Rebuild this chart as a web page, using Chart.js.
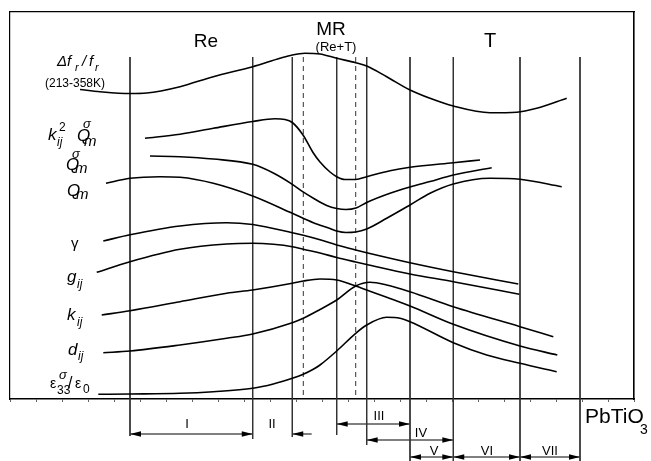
<!DOCTYPE html>
<html><head><meta charset="utf-8">
<script src="https://cdn.jsdelivr.net/npm/chart.js@4/dist/chart.umd.min.js"></script>
<style>html,body{margin:0;padding:0;background:#fff;overflow:hidden}</style>
</head><body>
<canvas id="c" width="651" height="461"></canvas>
<script>
const xTicks = Array.from({length: 25}, (_, i) => +(i * 2.6).toFixed(1));
const deltaF = [[7.0,30.95],[9.0,30.73],[12.0,30.55],[13.67,30.6],[17.0,31.23],[20.33,32.23],[24.27,33.23],[27.0,34.07],[28.23,34.4],[29.5,34.57],[31.0,34.5],[32.67,34.07],[34.57,33.63],[35.67,33.3],[37.67,32.23],[40.0,30.9],[42.0,30.07],[44.33,29.3],[48.0,28.63],[50.67,28.68],[52.67,29.07],[55.67,30.07]];
const k2Qm = [[13.5,26.07],[17.0,26.47],[20.33,27.07],[24.27,27.75],[26.5,28.02],[27.5,27.95],[28.23,27.65],[29.3,26.4],[30.3,24.65],[31.0,23.7],[32.0,22.7],[32.67,22.23],[33.5,21.95],[34.57,21.95],[35.67,22.23],[38.0,22.83],[40.0,23.17],[44.33,23.63],[47.0,23.9]];
const qmSigma = [[14.0,24.3],[17.0,24.23],[20.33,24.0],[24.27,23.47],[26.33,22.6],[28.23,21.47],[29.27,20.73],[30.3,20.1],[31.67,19.35],[32.67,19.05],[33.6,18.95],[34.6,19.1],[35.67,19.65],[38.0,20.57],[40.0,21.2],[42.0,21.75],[44.33,22.4],[48.17,23.13]];
const qm = [[9.6,21.57],[12.0,22.07],[15.0,22.23],[17.0,22.17],[20.33,21.57],[24.27,20.3],[28.23,18.57],[30.33,17.63],[32.0,17.05],[32.67,16.8],[33.6,16.65],[34.57,16.7],[35.67,17.0],[37.67,18.07],[40.0,19.4],[42.0,20.57],[44.33,21.5],[48.0,22.07],[51.0,21.97],[55.17,21.23]];
const gamma = [[9.33,15.8],[12.0,16.42],[17.0,17.3],[21.67,17.63],[24.27,17.45],[28.23,16.63],[29.33,16.37],[31.0,15.92],[32.67,15.4],[34.57,14.9],[35.67,14.63],[40.0,13.63],[44.33,12.73],[50.83,11.5]];
const gij = [[8.67,12.67],[12.0,13.73],[17.0,14.97],[21.67,15.5],[24.27,15.57],[26.33,15.47],[28.23,15.23],[29.33,14.97],[31.0,14.6],[32.67,14.15],[34.57,13.7],[35.67,13.45],[40.0,12.5],[44.33,11.73],[50.93,10.47]];
const kij = [[9.17,8.4],[12.0,8.83],[17.0,9.73],[21.67,10.57],[24.27,10.9],[28.23,11.57],[29.33,11.8],[31.0,12.0],[32.67,11.9],[34.57,11.3],[35.67,10.9],[37.67,10.17],[40.0,9.3],[44.33,7.47],[51.0,5.3],[54.73,4.4]];
const dij = [[9.33,4.63],[12.0,4.8],[17.0,5.4],[21.67,6.07],[24.27,6.5],[28.23,7.63],[29.33,8.07],[31.0,8.95],[32.67,9.9],[34.57,11.3],[36.0,11.67],[37.67,11.4],[40.0,10.73],[44.33,9.23],[51.0,7.23],[54.33,6.23]];
const eps = [[8.83,0.47],[12.0,0.5],[17.0,0.57],[20.33,0.73],[24.27,1.07],[26.33,1.5],[28.23,2.07],[29.27,2.45],[30.33,2.97],[31.0,3.4],[32.67,4.8],[34.57,6.57],[35.67,7.4],[37.67,8.17],[39.0,8.07],[40.0,7.73],[44.33,5.63],[47.67,4.4],[51.0,3.57],[54.67,2.73]];

const boundaryX = [12.0, 24.27, 28.23, 32.67, 35.67, 40.0, 44.33, 51.0, 57.0];
const boundaryTop = 34.2;
const boundaryBottom = [-3.7, -4.0, -3.8, -3.6, -4.6, -6.2, -6.2, -6.2, -6.2];
const dashedX = [29.33, 34.57];

const rangeLabels = ['I', 'II', 'III', 'IV', 'V', 'VI', 'VII'];
const rangeFrom = [12.0, 28.23, 32.67, 35.67, 40.0, 44.33, 51.0];
const rangeTo = [24.27, 30.17, 40.0, 44.33, 44.33, 51.0, 57.0];
const rangeLevel = [-3.5, -3.5, -2.5, -4.1, -5.8, -5.8, -5.8];
const rangeLabelX = [17.7, 26.2, 36.9, 41.1, 42.4, 47.7, 54.0];
const rangeLabelY = [-2.9, -2.9, -2.1, -3.8, -5.6, -5.6, -5.6];

const phaseLabels = ['Re', 'MR', '(Re+T)', 'T'];

// ---- build ----
const FONT = '"Liberation Sans", Arial, sans-serif';
function makeHead() {
  const c = document.createElement('canvas'); c.width = 24; c.height = 8;
  const g = c.getContext('2d'); g.fillStyle = '#000';
  g.beginPath(); g.moveTo(12, 4); g.lineTo(1, 1.3); g.lineTo(1, 6.7); g.closePath(); g.fill();
  return c;
}
const head = makeHead();
const toXY = a => a.map(([x, y]) => ({x, y}));
const datasets = [];
[deltaF, k2Qm, qmSigma, qm, gamma, gij, kij, dij, eps].forEach(c => datasets.push({
  data: toXY(c), borderColor: '#000', borderWidth: 1.6, pointRadius: 0,
  cubicInterpolationMode: 'monotone', clip: false, xAxisID: 'x', yAxisID: 'y'
}));
boundaryX.forEach((x, i) => datasets.push({
  data: [{x, y: boundaryTop}, {x, y: boundaryBottom[i]}], borderColor: '#333', borderWidth: 1,
  pointRadius: 0, tension: 0, clip: false, xAxisID: 'x', yAxisID: 'y'
}));
dashedX.forEach(x => datasets.push({
  data: [{x, y: boundaryTop}, {x, y: 0}], borderColor: '#333', borderWidth: 1, borderDash: [5, 4],
  pointRadius: 0, tension: 0, clip: false, xAxisID: 'x', yAxisID: 'y'
}));
rangeFrom.forEach((f, i) => datasets.push({
  data: [{x: f, y: rangeLevel[i]}, {x: rangeTo[i], y: rangeLevel[i]}],
  borderColor: '#000', borderWidth: 1, tension: 0, clip: false,
  pointStyle: head, pointRotation: [180, 0], pointRadius: i === 1 ? [90, 0] : 90,
  xAxisID: 'x', yAxisID: 'y'
}));

function runs(ctx, x0, y0, list) {
  list.forEach(([t, size, it, dx, dy]) => {
    ctx.font = (it ? 'italic ' : '') + size + 'px ' + FONT;
    ctx.fillText(t, x0 + dx, y0 + dy);
  });
}

const annot = {
  id: 'annot',
  afterDatasetsDraw(chart) {
    const {ctx, scales: {x, y}} = chart;
    const X = v => x.getPixelForValue(v), Y = v => y.getPixelForValue(v);
    ctx.save();
    ctx.fillStyle = '#000'; ctx.textBaseline = 'alphabetic'; ctx.textAlign = 'left';
    runs(ctx, X(4.7), Y(33.3), [['Δf', 15, true, 0, 0], ['r', 11, true, 18, 5], ['/', 15, true, 25, 0], ['f', 15, true, 32, 0], ['r', 11, true, 38, 5]]);
    runs(ctx, X(3.5), Y(31.2), [['(213-358K)', 12, false, 0, 0]]);
    runs(ctx, X(3.8), Y(25.9), [['k', 17, true, 0, 0], ['2', 12, false, 11, -9], ['ij', 12, true, 9, 6], ['Q', 17, true, 29, 1], ['σ', 13, true, 35, -12], ['m', 15, true, 36, 6]]);
    runs(ctx, X(5.6), Y(22.9), [['Q', 17, true, 0, 0], ['σ', 13, true, 6, -12], ['m', 15, true, 9, 3]]);
    runs(ctx, X(5.7), Y(20.3), [['Q', 17, true, 0, 0], ['m', 15, true, 9, 3]]);
    runs(ctx, X(6.1), Y(15.1), [['γ', 15, false, 0, 0]]);
    runs(ctx, X(5.7), Y(11.7), [['g', 17, true, 0, 0], ['ij', 12, true, 10, 6]]);
    runs(ctx, X(5.7), Y(7.9), [['k', 17, true, 0, 0], ['ij', 12, true, 10, 6]]);
    runs(ctx, X(5.8), Y(4.4), [['d', 17, true, 0, 0], ['ij', 12, true, 10, 5]]);
    runs(ctx, X(4.0), Y(1.1), [['ε', 14, false, 0, 0], ['33', 12, false, 7, 6], ['σ', 13, true, 9, -9], ['/', 16, false, 18, 0], ['ε', 14, false, 25, 0], ['0', 12, false, 33, 5]]);
    ctx.textAlign = 'center';
    ctx.font = '19px ' + FONT; ctx.fillText(phaseLabels[0], X(19.6), Y(35.2));
    ctx.font = '19px ' + FONT; ctx.fillText(phaseLabels[1], X(32.1), Y(36.4));
    ctx.font = '13px ' + FONT; ctx.fillText(phaseLabels[2], X(32.6), Y(34.8));
    ctx.font = '20px ' + FONT; ctx.fillText(phaseLabels[3], X(48.0), Y(35.2));
    ctx.font = '13px ' + FONT;
    rangeLabels.forEach((t, i) => ctx.fillText(t, X(rangeLabelX[i]), Y(rangeLabelY[i])));
    ctx.textAlign = 'left';
    runs(ctx, X(57.5), Y(-2.4), [['PbTiO', 21, false, 0, 0], ['3', 14, false, 55, 11]]);
    ctx.restore();
  }
};

const hidden = {ticks: {display: false}, grid: {display: false, drawTicks: false}};
new Chart(document.getElementById('c'), {
  type: 'line',
  data: {datasets},
  options: {
    responsive: false, animation: false, events: [],
    layout: {autoPadding: false, padding: {left: 10, top: 12, right: 17, bottom: 59}},
    plugins: {legend: {display: false}, tooltip: {enabled: false}},
    scales: {
      x: {type: 'linear', position: 'bottom', min: 0, max: 62.4,
        afterBuildTicks: s => { s.ticks = xTicks.map(v => ({value: v})); },
        ticks: {display: false},
        grid: {drawOnChartArea: false, drawTicks: true, tickLength: 3, color: '#666', lineWidth: 1},
        border: {display: true, color: '#000', width: 1.6}},
      y: {type: 'linear', position: 'left', min: 0, max: 38.7, ...hidden,
        border: {display: true, color: '#000', width: 1.2}},
      xTop: {type: 'linear', position: 'top', min: 0, max: 1, ...hidden,
        border: {display: true, color: '#000', width: 1.2}},
      yRight: {type: 'linear', position: 'right', min: 0, max: 1, ...hidden,
        border: {display: true, color: '#000', width: 1.6}}
    }
  },
  plugins: [annot]
});
</script>
</body></html>
